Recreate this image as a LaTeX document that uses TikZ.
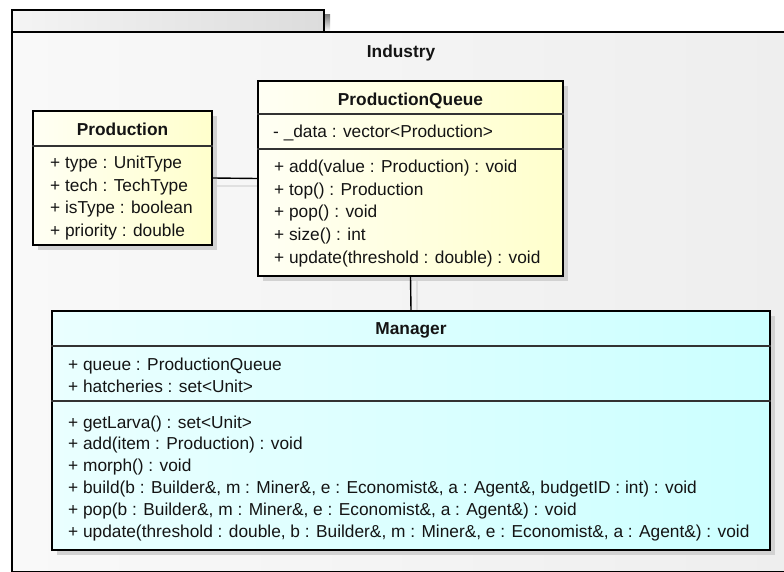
\documentclass[tikz,border=0pt]{standalone}
\usepackage{fontspec}
\setmainfont{Liberation Sans}
\usetikzlibrary{shadows}

\definecolor{ink}{HTML}{141414}
\definecolor{sepline}{HTML}{333333}
\definecolor{pkgA}{HTML}{F9F9F9}
\definecolor{pkgB}{HTML}{EEEEEE}
\definecolor{tabA}{HTML}{F4F4F4}
\definecolor{tabB}{HTML}{DCDCDC}
\definecolor{yelA}{HTML}{FFFFF4}
\definecolor{yelB}{HTML}{FFFFCC}
\definecolor{cyaA}{HTML}{EAFFFF}
\definecolor{cyaB}{HTML}{CCFFFF}
\definecolor{shade}{HTML}{D2D2D2}

\tikzset{
  classbox/.style={draw=black, line width=2.4pt, rectangle, inner sep=0pt,
    drop shadow={shadow xshift=5pt, shadow yshift=-5pt, fill=shade, opacity=1}},
  yellowbox/.style={classbox, left color=yelA, right color=yelB},
  cyanbox/.style={classbox, left color=cyaA, right color=cyaB},
  member/.style={anchor=base west, inner sep=0pt, text=ink,
    font=\fontsize{17.3}{20}\selectfont},
  title/.style={anchor=base, inner sep=0pt, text=ink,
    font=\fontsize{17.3}{20}\selectfont\bfseries},
  separator/.style={draw=sepline, line width=1.3pt},
  link/.style={draw=black, line width=1.4pt},
  linkshadow/.style={draw=black!12, line width=1.4pt},
}

\begin{document}
\begin{tikzpicture}[x=1pt, y=-1pt]
\useasboundingbox (0,0) rectangle (784,572);
\clip (0,0) rectangle (784,572);
\fill[white] (0,0) rectangle (784,572);

% package "Industry": tab and body
\fill[shade] (324,15) rectangle (330,32);
\draw[line width=2.4pt, left color=tabA, right color=tabB] (12,10) rectangle (324,32);
\draw[line width=2.4pt, left color=pkgA, right color=pkgB] (12,32) rectangle (792,572);
\node[title] (industry) at (401,58) {Industry};

% connector shadows
\path[linkshadow] (216,186) -- (258,186);
\path[linkshadow] (417,281) -- (417,311);

% class Production
\node[yellowbox, minimum width=179pt, minimum height=134pt] (prod) at (122.5,178) {};
\path[separator] (prod.west |- 0,146) -- (prod.east |- 0,146);
\node[title] (prodT) at (122.5,136) {Production};
\node[member] (prodA1) at (50,169) {+ type : UnitType};
\node[member] (prodA2) at (50,191.5) {+ tech : TechType};
\node[member] (prodA3) at (50,214) {+ isType : boolean};
\node[member] (prodA4) at (50,236.5) {+ priority : double};

% class ProductionQueue
\node[yellowbox, minimum width=305pt, minimum height=195pt] (pq) at (410.5,178.5) {};
\path[separator] (pq.west |- 0,114) -- (pq.east |- 0,114);
\path[separator] (pq.west |- 0,149) -- (pq.east |- 0,149);
\node[title] (pqT) at (410.5,106) {ProductionQueue};
\node[member] (pqA1) at (273,138) {- \_data : vector<Production>};
\node[member] (pqM1) at (274,173) {+ add(value : Production) : void};
\node[member] (pqM2) at (274,195.5) {+ top() : Production};
\node[member] (pqM3) at (274,218) {+ pop() : void};
\node[member] (pqM4) at (274,240.5) {+ size() : int};
\node[member] (pqM5) at (274,263) {+ update(threshold : double) : void};

% class Manager
\node[cyanbox, minimum width=718pt, minimum height=239pt] (mgr) at (411,430.5) {};
\path[separator] (mgr.west |- 0,346) -- (mgr.east |- 0,346);
\path[separator] (mgr.west |- 0,401) -- (mgr.east |- 0,401);
\node[title] (mgrT) at (411,334) {Manager};
\node[member] (mgrA1) at (68,370) {+ queue : ProductionQueue};
\node[member] (mgrA2) at (68,392) {+ hatcheries : set<Unit>};
\node[member] (mgrM1) at (68,428) {+ getLarva() : set<Unit>};
\node[member] (mgrM2) at (68,449.8) {+ add(item : Production) : void};
\node[member] (mgrM3) at (68,471.6) {+ morph() : void};
\node[member] (mgrM4) at (68,493.4) {+ build(b : Builder\&, m : Miner\&, e : Economist\&, a : Agent\&, budgetID : int) : void};
\node[member] (mgrM5) at (68,515.2) {+ pop(b : Builder\&, m : Miner\&, e : Economist\&, a : Agent\&) : void};
\node[member] (mgrM6) at (68,537) {+ update(threshold : double, b : Builder\&, m : Miner\&, e : Economist\&, a : Agent\&) : void};

% associations
\path[link] (prod.east) -- (pq.west);
\path[link] (pq.south) -- (mgr.north);
\end{tikzpicture}
\end{document}
